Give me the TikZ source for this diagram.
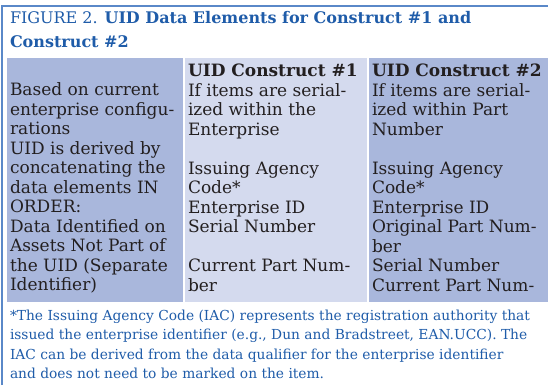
\documentclass[tikz,border=0pt]{standalone}
\usepackage{fontspec}
\setmainfont{DejaVu Serif}
\usetikzlibrary{positioning}
\definecolor{titleblue}{HTML}{1F5CA9}
\definecolor{frameblue}{HTML}{5A88C8}
\definecolor{darkcol}{HTML}{A9B7DC}
\definecolor{lightcol}{HTML}{D4DAEE}
\definecolor{ink}{HTML}{231F20}
\tikzset{%
	% Specifications for style of nodes:
	base/.style = {rectangle, inner sep=0pt, outer sep=0pt, anchor=north west},
	colbox/.style = {base, minimum height=244pt},
	darkbox/.style = {colbox, fill=darkcol},
	lightbox/.style = {colbox, fill=lightcol},
	cell/.style = {base, align=left, text=ink,
		font=\fontsize{17}{19.5}\selectfont},
	heading/.style = {base, align=left, text=titleblue,
		font=\fontsize{16}{24}\selectfont},
	note/.style = {base, align=left, text=titleblue,
		font=\fontsize{13.8}{19.3}\selectfont}
}

\begin{document}
\begin{tikzpicture}[x=1pt,y=-1pt]
	\useasboundingbox (0,0) rectangle (548,385);
	% frame on the left and on top
	\draw[frameblue, line width=1.2pt] (2,385) -- (2,6) -- (548,6);
	
	% Specification of nodes (position, etc.)
	\node (title) [heading] at (10,11) {FIGURE 2. \textbf{UID Data Elements for Construct \#1 and}\\
		\textbf{Construct \#2}};
	
	\node (c1) [darkbox, minimum width=176pt] at (7,58) {};
	\node (c2) [lightbox, minimum width=182pt] at (185,58) {};
	\node (c3) [darkbox, minimum width=179pt] at (369,58) {};
	
	\node (t1) [cell] at (10,64) {\vphantom{\textbf{UID}}\\Based on current\\enterprise configu-\\rations\\
		UID is derived by\\concatenating the\\data elements IN\\ORDER:\\
		Data Identified on\\Assets Not Part of\\the UID (Separate\\Identifier)};
	\node (t2) [cell] at (188,64) {\textbf{UID Construct \#1}\\If items are serial-\\
		ized within the\\Enterprise\\~\\Issuing Agency\\Code*\\Enterprise ID\\
		Serial Number\\~\\Current Part Num-\\ber};
	\node (t3) [cell] at (372,64) {\textbf{UID Construct \#2}\\If items are serial-\\
		ized within Part\\Number\\~\\Issuing Agency\\Code*\\Enterprise ID\\
		Original Part Num-\\ber\\Serial Number\\Current Part Num-};
	
	\node (fn) [note] at (10,310) {*The Issuing Agency Code (IAC) represents the registration authority that\\
		issued the enterprise identifier (e.g., Dun and Bradstreet, EAN.UCC). The\\
		IAC can be derived from the data qualifier for the enterprise identifier\\
		and does not need to be marked on the item.};
\end{tikzpicture}
\end{document}
